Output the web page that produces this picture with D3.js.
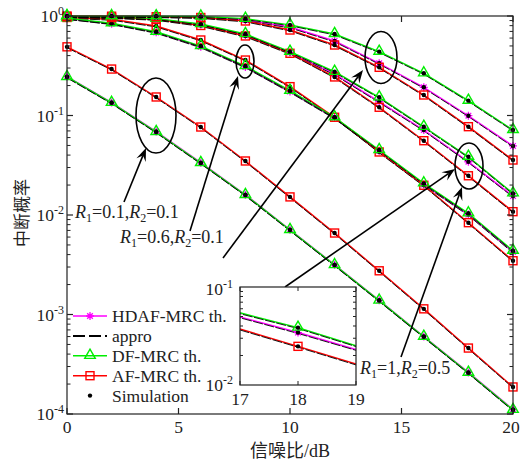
<!DOCTYPE html>
<html>
<head>
<meta charset="utf-8">
<script src="https://cdn.jsdelivr.net/npm/d3@7/dist/d3.min.js"></script>
<style>
  body { margin: 0; background: #fff; }
  text { font-family: "Liberation Serif", "Noto Sans CJK SC", serif; fill: #222; }
</style>
</head>
<body>
<svg id="chart" width="520" height="461"></svg>
<script>
// data (outage probability vs SNR)
var snr = [0, 2, 4, 6, 8, 10, 12, 14, 16, 18, 20];
var xTicks = [0, 5, 10, 15, 20];
var yTicks = [-4, -3, -2, -1, 0];
var insetTicks = [17, 18, 19];

// R1=0.1,R2=0.1
var dfA   = [0.244, 0.134, 0.0683, 0.0333, 0.0159, 0.00707, 0.00314, 0.00138, 0.000598, 0.00026, 0.00011];
var hdafA = [0.246, 0.135, 0.069, 0.0336, 0.016, 0.00712, 0.00316, 0.00139, 0.000602, 0.000262, 0.000111];
var afA   = [0.49, 0.293, 0.1535, 0.0766, 0.0349, 0.0152, 0.00659, 0.00275, 0.00114, 0.00046, 0.000187];
// R1=0.6,R2=0.1 (small ellipse)
var dfB   = [0.948, 0.845, 0.695, 0.499, 0.314, 0.1775, 0.096, 0.045, 0.0208, 0.0104, 0.00438];
var hdafB = [0.945, 0.838, 0.685, 0.49, 0.308, 0.174, 0.0945, 0.0442, 0.0203, 0.0101, 0.00425];
var afB   = [0.966, 0.927, 0.793, 0.574, 0.361, 0.195, 0.096, 0.043, 0.0199, 0.00837, 0.00347];
// R1=1,R2=0.5
var dfC   = [0.989, 0.977, 0.94, 0.831, 0.659, 0.438, 0.2756, 0.1524, 0.0771, 0.0385, 0.0165];
var hdafC = [0.989, 0.975, 0.935, 0.82, 0.645, 0.43, 0.261, 0.1377, 0.0715, 0.0343, 0.0155];
var afC   = [0.989, 0.966, 0.925, 0.803, 0.63, 0.422, 0.244, 0.121, 0.0558, 0.0248, 0.0108];
// top group
var dfD   = [0.998, 0.998, 0.995, 0.989, 0.94, 0.815, 0.659, 0.438, 0.2655, 0.141, 0.0715];
var hdafD = [0.998, 0.997, 0.992, 0.975, 0.912, 0.775, 0.561, 0.335, 0.192, 0.0995, 0.0494];
var afD   = [0.998, 0.995, 0.984, 0.966, 0.891, 0.723, 0.511, 0.305, 0.1607, 0.0772, 0.0357];

var GREEN = "#00ee00", RED = "#ff0000", MAG = "#ff00ff";

var curves = [
  {v: hdafA, c: MAG, m: "star"}, {v: afA, c: RED, m: "square"}, {v: dfA, c: GREEN, m: "tri"},
  {v: hdafB, c: MAG, m: "star"}, {v: afB, c: RED, m: "square"}, {v: dfB, c: GREEN, m: "tri"},
  {v: hdafC, c: MAG, m: "star"}, {v: afC, c: RED, m: "square"}, {v: dfC, c: GREEN, m: "tri"},
  {v: hdafD, c: MAG, m: "star"}, {v: afD, c: RED, m: "square"}, {v: dfD, c: GREEN, m: "tri"}
];
// the inset only zooms on the R1=1,R2=0.5 group
var insetCurves = [
  {v: hdafC, c: MAG, m: "star"}, {v: afC, c: RED, m: "square"}, {v: dfC, c: GREEN, m: "tri"}
];

var svg = d3.select("#chart");
var x = d3.scaleLinear().domain([0, 20]).range([67, 513]);
var y = d3.scaleLog().domain([1e-4, 1]).range([414, 16]);

function marker(g, type, cx, cy, color) {
  if (type == "tri") {
    g.append("path").attr("d", d3.symbol(d3.symbolTriangle, 48)())
      .attr("transform", "translate(" + cx + "," + (cy - 0.5) + ")")
      .attr("fill", "none").attr("stroke", color).attr("stroke-width", 1.4);
  } else if (type == "square") {
    g.append("rect").attr("x", cx - 4).attr("y", cy - 4).attr("width", 8).attr("height", 8)
      .attr("fill", "none").attr("stroke", color).attr("stroke-width", 1.4);
  } else if (type == "star") {
    var r = 4, d = "";
    [0, 45, 90, 135].forEach(function(a) {
      var t = a * Math.PI / 180;
      d += "M" + (cx - r * Math.cos(t)) + "," + (cy - r * Math.sin(t)) + "L" + (cx + r * Math.cos(t)) + "," + (cy + r * Math.sin(t));
    });
    g.append("path").attr("d", d).attr("stroke", color).attr("stroke-width", 1.3);
  } else if (type == "dot") {
    g.append("circle").attr("cx", cx).attr("cy", cy).attr("r", 2.2).attr("fill", "#000");
  }
}

function drawCurves(g, list, xs, ys, markAt) {
  var line = d3.line().x(function(d, i) { return xs(snr[i]); }).y(function(d) { return ys(d); });
  list.forEach(function(cv) {
    g.append("path").datum(cv.v).attr("d", line).attr("fill", "none")
      .attr("stroke", cv.c).attr("stroke-width", 1.4);
    // approximation, dashed black
    g.append("path").datum(cv.v).attr("d", line).attr("fill", "none")
      .attr("transform", "translate(0,0.9)")
      .attr("stroke", "#000").attr("stroke-width", 0.9).attr("stroke-dasharray", "10,1.5");
  });
  list.forEach(function(cv) {
    cv.v.forEach(function(d, i) {
      if (markAt && markAt.indexOf(snr[i]) < 0) return;
      marker(g, cv.m, xs(snr[i]), ys(d), cv.c);
      marker(g, "dot", xs(snr[i]), ys(d));
    });
  });
}

// power-of-ten label
function powLabel(g, px, py, e) {
  var t = g.append("text").attr("x", px).attr("y", py).attr("font-size", 17.5)
    .attr("text-anchor", "end");
  t.append("tspan").text("10");
  t.append("tspan").attr("dy", -7).attr("font-size", 12).text(e == 0 ? "0" : "-" + (-e));
}

// ---- main axes ----
var plot = svg.append("g");
drawCurves(plot, curves, x, y, null);

var ax = svg.append("g").attr("stroke", "#222").attr("stroke-width", 1.2);
ax.append("rect").attr("x", 67).attr("y", 16).attr("width", 446).attr("height", 398).attr("fill", "none");
xTicks.forEach(function(t) {
  ax.append("line").attr("x1", x(t)).attr("x2", x(t)).attr("y1", 414).attr("y2", 408);
  ax.append("line").attr("x1", x(t)).attr("x2", x(t)).attr("y1", 16).attr("y2", 22);
  svg.append("text").attr("x", t == 20 ? x(t) - 2 : x(t)).attr("y", 433).attr("text-anchor", "middle")
    .attr("font-size", 17.5).text(t);
});
yTicks.forEach(function(e) {
  var v = Math.pow(10, e);
  ax.append("line").attr("x1", 67).attr("x2", 73).attr("y1", y(v)).attr("y2", y(v));
  ax.append("line").attr("x1", 513).attr("x2", 507).attr("y1", y(v)).attr("y2", y(v));
  powLabel(svg, 64, y(v) + 6, e);
  if (e < 0) {
    for (var k = 2; k < 10; k++) {
      var yy = y(k * v);
      ax.append("line").attr("x1", 67).attr("x2", 70.5).attr("y1", yy).attr("y2", yy).attr("stroke-width", 1);
      ax.append("line").attr("x1", 513).attr("x2", 509.5).attr("y1", yy).attr("y2", yy).attr("stroke-width", 1);
    }
  }
});

svg.append("text").attr("x", 290).attr("y", 457).attr("text-anchor", "middle")
  .attr("font-size", 18).text("信噪比/dB");
svg.append("text").attr("transform", "translate(28,213) rotate(-90)").attr("text-anchor", "middle")
  .attr("font-size", 17).text("中断概率");

// ---- annotations ----
var ann = svg.append("g");
var ellipses = [[156, 115.5, 20, 37.5], [245, 61.5, 9, 16.5], [381, 57.5, 16, 26], [469, 166, 14, 23]];
ellipses.forEach(function(e) {
  ann.append("ellipse").attr("cx", e[0]).attr("cy", e[1]).attr("rx", e[2]).attr("ry", e[3])
    .attr("fill", "none").attr("stroke", "#000").attr("stroke-width", 1.6);
});
var arrows = [[124, 202, 146, 148], [190, 231, 238, 76], [223, 258, 363, 70], [285, 287, 455, 169], [401, 357, 462, 187]];
arrows.forEach(function(a) {
  var dx = a[2] - a[0], dy = a[3] - a[1], L = Math.sqrt(dx * dx + dy * dy);
  var ux = dx / L, uy = dy / L, nx = -uy, ny = ux;
  var hl = 13, hw = 5, notch = 8;
  ann.append("line").attr("x1", a[0]).attr("y1", a[1]).attr("x2", a[2] - ux * notch).attr("y2", a[3] - uy * notch)
    .attr("stroke", "#000").attr("stroke-width", 1.6);
  var p = [
    [a[2], a[3]],
    [a[2] - ux * hl + nx * hw, a[3] - uy * hl + ny * hw],
    [a[2] - ux * notch, a[3] - uy * notch],
    [a[2] - ux * hl - nx * hw, a[3] - uy * hl - ny * hw]
  ];
  ann.append("path").attr("d", "M" + p.join("L") + "Z").attr("fill", "#000");
});

function rLabel(px, py, r1, r2) {
  var t = ann.append("text").attr("x", px).attr("y", py).attr("font-size", 18);
  t.append("tspan").attr("font-style", "italic").text("R");
  t.append("tspan").attr("font-size", 12).attr("dy", 4).text("1");
  t.append("tspan").attr("dy", -4).text("=" + r1 + ",");
  t.append("tspan").attr("font-style", "italic").text("R");
  t.append("tspan").attr("font-size", 12).attr("dy", 4).text("2");
  t.append("tspan").attr("dy", -4).text("=" + r2);
}
rLabel(75, 218, "0.1", "0.1");
rLabel(120, 243, "0.6", "0.1");
rLabel(360, 374, "1", "0.5");

// ---- legend ----
var leg = svg.append("g");
var legItems = [
  {t: "HDAF-MRC th.", c: MAG, m: "star"},
  {t: "appro", c: "#000", m: null, dash: true},
  {t: "DF-MRC th.", c: GREEN, m: "tri"},
  {t: "AF-MRC th.", c: RED, m: "square"},
  {t: "Simulation", c: null, m: "dot"}
];
legItems.forEach(function(it, i) {
  var ly = 316 + i * 19.9;
  if (it.c) {
    leg.append("line").attr("x1", 73).attr("x2", 107).attr("y1", ly).attr("y2", ly)
      .attr("stroke", it.c).attr("stroke-width", it.dash ? 2 : 1.5)
      .attr("stroke-dasharray", it.dash ? "12,4" : null);
  }
  if (it.m) marker(leg, it.m, 90, ly, it.c);
  leg.append("text").attr("x", 112).attr("y", ly + 6).attr("font-size", 17.5).text(it.t);
});

// ---- inset ----
var xi = d3.scaleLinear().domain([17, 19]).range([240, 356]);
var yi = d3.scaleLog().domain([0.01, 0.1]).range([385, 287]);
var ins = svg.append("g");
ins.append("rect").attr("x", 240).attr("y", 287).attr("width", 116).attr("height", 98).attr("fill", "#fff");
ins.append("clipPath").attr("id", "insclip").append("rect")
  .attr("x", 240).attr("y", 287).attr("width", 116).attr("height", 98);
var insPlot = ins.append("g").attr("clip-path", "url(#insclip)");
drawCurves(insPlot, insetCurves, xi, yi, [18]);
ins.append("rect").attr("x", 240).attr("y", 287).attr("width", 116).attr("height", 98)
  .attr("fill", "none").attr("stroke", "#222").attr("stroke-width", 1.2);
insetTicks.forEach(function(t) {
  ins.append("line").attr("x1", xi(t)).attr("x2", xi(t)).attr("y1", 385).attr("y2", 381).attr("stroke", "#222");
  ins.append("line").attr("x1", xi(t)).attr("x2", xi(t)).attr("y1", 287).attr("y2", 291).attr("stroke", "#222");
  ins.append("text").attr("x", xi(t)).attr("y", 405).attr("text-anchor", "middle").attr("font-size", 17.5).text(t);
});
for (var k = 2; k < 10; k++) {
  var yy = yi(k * 0.01);
  ins.append("line").attr("x1", 240).attr("x2", 243).attr("y1", yy).attr("y2", yy).attr("stroke", "#222");
  ins.append("line").attr("x1", 356).attr("x2", 353).attr("y1", yy).attr("y2", yy).attr("stroke", "#222");
}
var il1 = ins.append("text").attr("x", 233).attr("y", 295).attr("text-anchor", "end").attr("font-size", 17.5);
il1.append("tspan").text("10"); il1.append("tspan").attr("dy", -7).attr("font-size", 12).text("-1");
var il2 = ins.append("text").attr("x", 233).attr("y", 391).attr("text-anchor", "end").attr("font-size", 17.5);
il2.append("tspan").text("10"); il2.append("tspan").attr("dy", -7).attr("font-size", 12).text("-2");
</script>
</body>
</html>
